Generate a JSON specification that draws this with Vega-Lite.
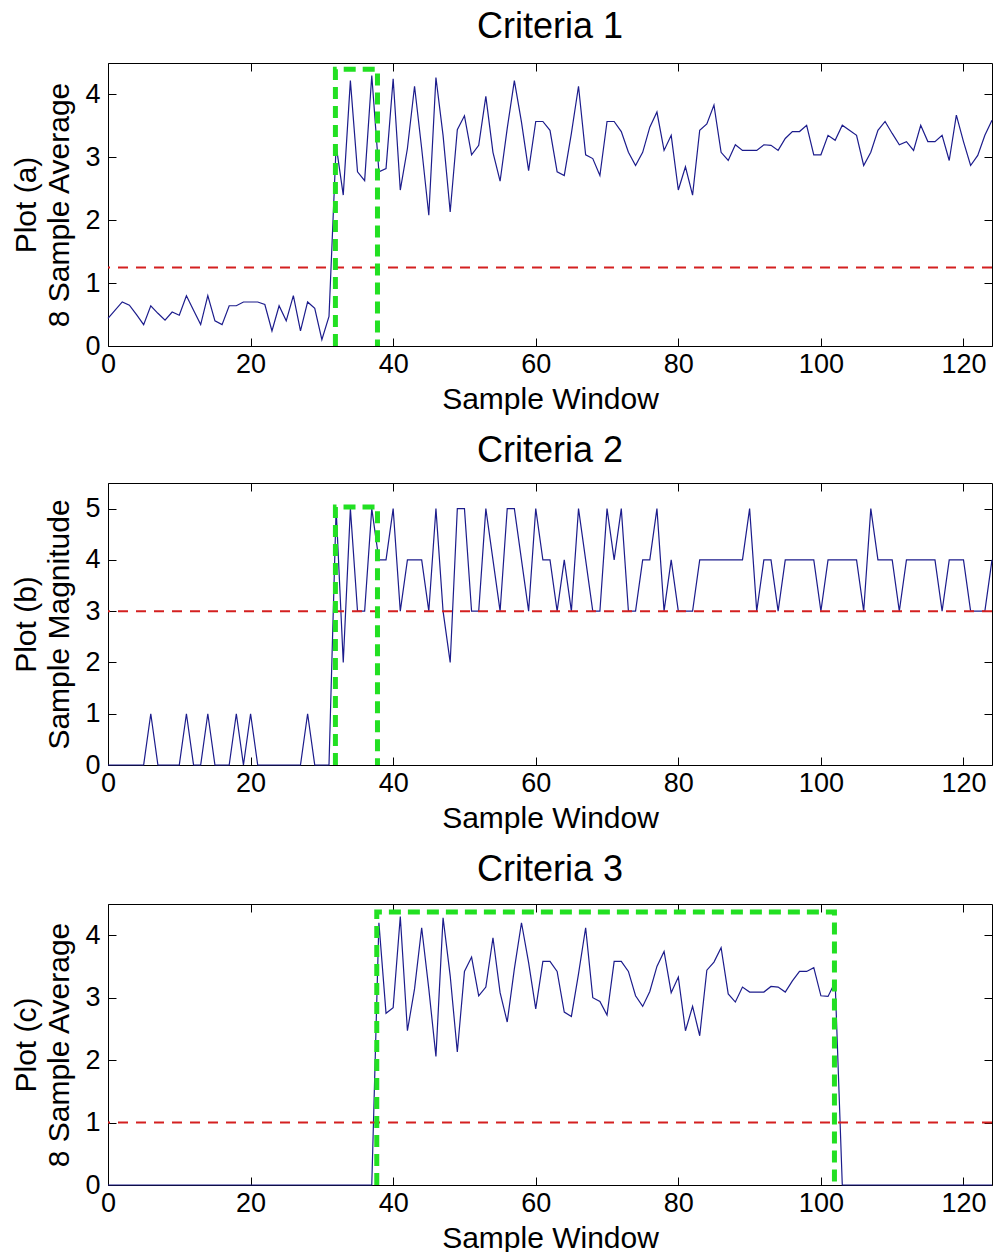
{
  "$schema": "https://vega.github.io/schema/vega-lite/v6.json",
  "background": "white",
  "padding": {"left": 11, "top": 8, "right": 0, "bottom": 0},
  "spacing": 17,
  "datasets": {
    "p1": [
      {"x":0,"v":0.44},{"x":1,"v":0.57},{"x":2,"v":0.70},{"x":3,"v":0.65},{"x":4,"v":0.50},{"x":5,"v":0.34},{"x":6,"v":0.64},{"x":7,"v":0.52},{"x":8,"v":0.41},{"x":9,"v":0.54},
      {"x":10,"v":0.49},{"x":11,"v":0.80},{"x":12,"v":0.57},{"x":13,"v":0.34},{"x":14,"v":0.80},{"x":15,"v":0.40},{"x":16,"v":0.34},{"x":17,"v":0.64},{"x":18,"v":0.64},{"x":19,"v":0.70},
      {"x":20,"v":0.70},{"x":21,"v":0.70},{"x":22,"v":0.66},{"x":23,"v":0.24},{"x":24,"v":0.64},{"x":25,"v":0.40},{"x":26,"v":0.80},{"x":27,"v":0.24},{"x":28,"v":0.70},{"x":29,"v":0.60},
      {"x":30,"v":0.10},{"x":31,"v":0.47},{"x":32,"v":3.19},{"x":33,"v":2.40},{"x":34,"v":4.22},{"x":35,"v":2.77},{"x":36,"v":2.63},{"x":37,"v":4.30},{"x":38,"v":2.77},{"x":39,"v":2.82},
      {"x":40,"v":4.25},{"x":41,"v":2.48},{"x":42,"v":3.14},{"x":43,"v":4.13},{"x":44,"v":3.14},{"x":45,"v":2.08},{"x":46,"v":4.27},{"x":47,"v":3.35},{"x":48,"v":2.13},{"x":49,"v":3.44},
      {"x":50,"v":3.66},{"x":51,"v":3.04},{"x":52,"v":3.19},{"x":53,"v":3.97},{"x":54,"v":3.08},{"x":55,"v":2.62},{"x":56,"v":3.46},{"x":57,"v":4.22},{"x":58,"v":3.56},{"x":59,"v":2.79},
      {"x":60,"v":3.57},{"x":61,"v":3.57},{"x":62,"v":3.43},{"x":63,"v":2.77},{"x":64,"v":2.71},{"x":65,"v":3.38},{"x":66,"v":4.13},{"x":67,"v":3.04},{"x":68,"v":2.98},{"x":69,"v":2.71},
      {"x":70,"v":3.57},{"x":71,"v":3.57},{"x":72,"v":3.41},{"x":73,"v":3.08},{"x":74,"v":2.87},{"x":75,"v":3.08},{"x":76,"v":3.48},{"x":77,"v":3.72},{"x":78,"v":3.11},{"x":79,"v":3.35},
      {"x":80,"v":2.48},{"x":81,"v":2.85},{"x":82,"v":2.40},{"x":83,"v":3.43},{"x":84,"v":3.53},{"x":85,"v":3.83},{"x":86,"v":3.08},{"x":87,"v":2.95},{"x":88,"v":3.20},{"x":89,"v":3.11},
      {"x":90,"v":3.11},{"x":91,"v":3.11},{"x":92,"v":3.20},{"x":93,"v":3.19},{"x":94,"v":3.11},{"x":95,"v":3.30},{"x":96,"v":3.41},{"x":97,"v":3.41},{"x":98,"v":3.51},{"x":99,"v":3.04},
      {"x":100,"v":3.04},{"x":101,"v":3.35},{"x":102,"v":3.27},{"x":103,"v":3.51},{"x":104,"v":3.43},{"x":105,"v":3.35},{"x":106,"v":2.87},{"x":107,"v":3.08},{"x":108,"v":3.43},{"x":109,"v":3.57},
      {"x":110,"v":3.38},{"x":111,"v":3.20},{"x":112,"v":3.25},{"x":113,"v":3.11},{"x":114,"v":3.51},{"x":115,"v":3.25},{"x":116,"v":3.25},{"x":117,"v":3.35},{"x":118,"v":2.95},{"x":119,"v":3.67},
      {"x":120,"v":3.25},{"x":121,"v":2.87},{"x":122,"v":3.03},{"x":123,"v":3.35},{"x":124,"v":3.59}
    ],
    "p2": [
      {"x":0,"v":0},{"x":1,"v":0},{"x":2,"v":0},{"x":3,"v":0},{"x":4,"v":0},{"x":5,"v":0},{"x":6,"v":1},{"x":7,"v":0},{"x":8,"v":0},{"x":9,"v":0},
      {"x":10,"v":0},{"x":11,"v":1},{"x":12,"v":0},{"x":13,"v":0},{"x":14,"v":1},{"x":15,"v":0},{"x":16,"v":0},{"x":17,"v":0},{"x":18,"v":1},{"x":19,"v":0},
      {"x":20,"v":1},{"x":21,"v":0},{"x":22,"v":0},{"x":23,"v":0},{"x":24,"v":0},{"x":25,"v":0},{"x":26,"v":0},{"x":27,"v":0},{"x":28,"v":1},{"x":29,"v":0},
      {"x":30,"v":0},{"x":31,"v":0},{"x":32,"v":5},{"x":33,"v":2},{"x":34,"v":5},{"x":35,"v":3},{"x":36,"v":3},{"x":37,"v":5},{"x":38,"v":4},{"x":39,"v":4},
      {"x":40,"v":5},{"x":41,"v":3},{"x":42,"v":4},{"x":43,"v":4},{"x":44,"v":4},{"x":45,"v":3},{"x":46,"v":5},{"x":47,"v":3},{"x":48,"v":2},{"x":49,"v":5},
      {"x":50,"v":5},{"x":51,"v":3},{"x":52,"v":3},{"x":53,"v":5},{"x":54,"v":4},{"x":55,"v":3},{"x":56,"v":5},{"x":57,"v":5},{"x":58,"v":4},{"x":59,"v":3},
      {"x":60,"v":5},{"x":61,"v":4},{"x":62,"v":4},{"x":63,"v":3},{"x":64,"v":4},{"x":65,"v":3},{"x":66,"v":5},{"x":67,"v":4},{"x":68,"v":3},{"x":69,"v":3},
      {"x":70,"v":5},{"x":71,"v":4},{"x":72,"v":5},{"x":73,"v":3},{"x":74,"v":3},{"x":75,"v":4},{"x":76,"v":4},{"x":77,"v":5},{"x":78,"v":3},{"x":79,"v":4},
      {"x":80,"v":3},{"x":81,"v":3},{"x":82,"v":3},{"x":83,"v":4},{"x":84,"v":4},{"x":85,"v":4},{"x":86,"v":4},{"x":87,"v":4},{"x":88,"v":4},{"x":89,"v":4},
      {"x":90,"v":5},{"x":91,"v":3},{"x":92,"v":4},{"x":93,"v":4},{"x":94,"v":3},{"x":95,"v":4},{"x":96,"v":4},{"x":97,"v":4},{"x":98,"v":4},{"x":99,"v":4},
      {"x":100,"v":3},{"x":101,"v":4},{"x":102,"v":4},{"x":103,"v":4},{"x":104,"v":4},{"x":105,"v":4},{"x":106,"v":3},{"x":107,"v":5},{"x":108,"v":4},{"x":109,"v":4},
      {"x":110,"v":4},{"x":111,"v":3},{"x":112,"v":4},{"x":113,"v":4},{"x":114,"v":4},{"x":115,"v":4},{"x":116,"v":4},{"x":117,"v":3},{"x":118,"v":4},{"x":119,"v":4},
      {"x":120,"v":4},{"x":121,"v":3},{"x":122,"v":3},{"x":123,"v":3},{"x":124,"v":4}
    ],
    "p3": [
      {"x":0,"v":0},{"x":10,"v":0},{"x":20,"v":0},{"x":30,"v":0},{"x":37,"v":0},
      {"x":38,"v":4.20},{"x":39,"v":2.75},
      {"x":40,"v":2.84},{"x":41,"v":4.30},{"x":42,"v":2.47},{"x":43,"v":3.14},{"x":44,"v":4.12},{"x":45,"v":3.14},{"x":46,"v":2.06},{"x":47,"v":4.28},{"x":48,"v":3.35},{"x":49,"v":2.13},
      {"x":50,"v":3.42},{"x":51,"v":3.65},{"x":52,"v":3.03},{"x":53,"v":3.17},{"x":54,"v":3.96},{"x":55,"v":3.08},{"x":56,"v":2.61},{"x":57,"v":3.46},{"x":58,"v":4.20},{"x":59,"v":3.56},
      {"x":60,"v":2.82},{"x":61,"v":3.58},{"x":62,"v":3.58},{"x":63,"v":3.42},{"x":64,"v":2.77},{"x":65,"v":2.70},{"x":66,"v":3.38},{"x":67,"v":4.12},{"x":68,"v":3.00},{"x":69,"v":2.94},
      {"x":70,"v":2.72},{"x":71,"v":3.58},{"x":72,"v":3.58},{"x":73,"v":3.42},{"x":74,"v":3.03},{"x":75,"v":2.86},{"x":76,"v":3.10},{"x":77,"v":3.50},{"x":78,"v":3.74},{"x":79,"v":3.08},
      {"x":80,"v":3.33},{"x":81,"v":2.47},{"x":82,"v":2.86},{"x":83,"v":2.39},{"x":84,"v":3.44},{"x":85,"v":3.57},{"x":86,"v":3.80},{"x":87,"v":3.06},{"x":88,"v":2.93},{"x":89,"v":3.17},
      {"x":90,"v":3.09},{"x":91,"v":3.09},{"x":92,"v":3.09},{"x":93,"v":3.18},{"x":94,"v":3.17},{"x":95,"v":3.09},{"x":96,"v":3.27},{"x":97,"v":3.42},{"x":98,"v":3.42},{"x":99,"v":3.48},
      {"x":100,"v":3.03},{"x":101,"v":3.02},{"x":102,"v":3.25},{"x":103,"v":0},{"x":110,"v":0},{"x":124,"v":0}
    ],
    "g1": [{"x":31.9,"y":0,"o":0},{"x":31.9,"y":4.4,"o":1},{"x":37.8,"y":4.4,"o":2},{"x":37.8,"y":0,"o":3}],
    "g2": [{"x":31.9,"y":0,"o":0},{"x":31.9,"y":5.03,"o":1},{"x":37.8,"y":5.03,"o":2},{"x":37.8,"y":0,"o":3}],
    "g3": [{"x":37.7,"y":0,"o":0},{"x":37.7,"y":4.37,"o":1},{"x":101.9,"y":4.37,"o":2},{"x":101.9,"y":0,"o":3}],
    "t1": [{"t":1.25}],
    "t2": [{"t":3}],
    "t3": [{"t":1}]
  },
  "vconcat": [
    {
      "width": 884, "height": 283,
      "title": {"text": "Criteria 1"},
      "resolve": {"axis": {"x": "independent", "y": "independent"}},
      "layer": [
        {
          "data": {"name": "p1"},
          "mark": {"type": "line", "color": "#1c1c8c", "strokeWidth": 1.2},
          "encoding": {
            "x": {"field": "x", "type": "quantitative", "scale": {"domain": [0, 124], "nice": false, "zero": false},
                  "axis": {"orient": "bottom", "values": [0,20,40,60,80,100,120], "title": "Sample Window"}},
            "y": {"field": "v", "type": "quantitative", "scale": {"domain": [0, 4.5], "nice": false},
                  "axis": {"orient": "left", "values": [0,1,2,3,4], "title": ["Plot (a)", "8 Sample Average"]}}
          }
        },
        {
          "data": {"name": "t1"},
          "mark": {"type": "rule", "color": "#d42020", "strokeWidth": 2, "strokeDash": [10, 8]},
          "encoding": {
            "y": {"field": "t", "type": "quantitative", "scale": {"domain": [0, 4.5], "nice": false}, "axis": null}
          }
        },
        {
          "data": {"name": "g1"},
          "mark": {"type": "line", "color": "#22e022", "strokeWidth": 5, "strokeDash": [12, 7]},
          "encoding": {
            "x": {"field": "x", "type": "quantitative", "scale": {"domain": [0, 124], "nice": false, "zero": false},
                  "axis": {"orient": "top", "values": [0,20,40,60,80,100,120], "labels": false, "title": null}},
            "y": {"field": "y", "type": "quantitative", "scale": {"domain": [0, 4.5], "nice": false},
                  "axis": {"orient": "right", "values": [0,1,2,3,4], "labels": false, "title": null}},
            "order": {"field": "o", "type": "quantitative"}
          }
        }
      ]
    },
    {
      "width": 884, "height": 282,
      "title": {"text": "Criteria 2"},
      "resolve": {"axis": {"x": "independent", "y": "independent"}},
      "layer": [
        {
          "data": {"name": "p2"},
          "mark": {"type": "line", "color": "#1c1c8c", "strokeWidth": 1.2},
          "encoding": {
            "x": {"field": "x", "type": "quantitative", "scale": {"domain": [0, 124], "nice": false, "zero": false},
                  "axis": {"orient": "bottom", "values": [0,20,40,60,80,100,120], "title": "Sample Window"}},
            "y": {"field": "v", "type": "quantitative", "scale": {"domain": [0, 5.5], "nice": false},
                  "axis": {"orient": "left", "values": [0,1,2,3,4,5], "title": ["Plot (b)", "Sample Magnitude"]}}
          }
        },
        {
          "data": {"name": "t2"},
          "mark": {"type": "rule", "color": "#d42020", "strokeWidth": 2, "strokeDash": [10, 8]},
          "encoding": {
            "y": {"field": "t", "type": "quantitative", "scale": {"domain": [0, 5.5], "nice": false}, "axis": null}
          }
        },
        {
          "data": {"name": "g2"},
          "mark": {"type": "line", "color": "#22e022", "strokeWidth": 5, "strokeDash": [12, 7]},
          "encoding": {
            "x": {"field": "x", "type": "quantitative", "scale": {"domain": [0, 124], "nice": false, "zero": false},
                  "axis": {"orient": "top", "values": [0,20,40,60,80,100,120], "labels": false, "title": null}},
            "y": {"field": "y", "type": "quantitative", "scale": {"domain": [0, 5.5], "nice": false},
                  "axis": {"orient": "right", "values": [0,1,2,3,4,5], "labels": false, "title": null}},
            "order": {"field": "o", "type": "quantitative"}
          }
        }
      ]
    },
    {
      "width": 884, "height": 281,
      "title": {"text": "Criteria 3"},
      "resolve": {"axis": {"x": "independent", "y": "independent"}},
      "layer": [
        {
          "data": {"name": "p3"},
          "mark": {"type": "line", "color": "#1c1c8c", "strokeWidth": 1.2},
          "encoding": {
            "x": {"field": "x", "type": "quantitative", "scale": {"domain": [0, 124], "nice": false, "zero": false},
                  "axis": {"orient": "bottom", "values": [0,20,40,60,80,100,120], "title": "Sample Window"}},
            "y": {"field": "v", "type": "quantitative", "scale": {"domain": [0, 4.5], "nice": false},
                  "axis": {"orient": "left", "values": [0,1,2,3,4], "title": ["Plot (c)", "8 Sample Average"]}}
          }
        },
        {
          "data": {"name": "t3"},
          "mark": {"type": "rule", "color": "#d42020", "strokeWidth": 2, "strokeDash": [10, 8]},
          "encoding": {
            "y": {"field": "t", "type": "quantitative", "scale": {"domain": [0, 4.5], "nice": false}, "axis": null}
          }
        },
        {
          "data": {"name": "g3"},
          "mark": {"type": "line", "color": "#22e022", "strokeWidth": 5, "strokeDash": [12, 7]},
          "encoding": {
            "x": {"field": "x", "type": "quantitative", "scale": {"domain": [0, 124], "nice": false, "zero": false},
                  "axis": {"orient": "top", "values": [0,20,40,60,80,100,120], "labels": false, "title": null}},
            "y": {"field": "y", "type": "quantitative", "scale": {"domain": [0, 4.5], "nice": false},
                  "axis": {"orient": "right", "values": [0,1,2,3,4], "labels": false, "title": null}},
            "order": {"field": "o", "type": "quantitative"}
          }
        }
      ]
    }
  ],
  "config": {
    "view": {"stroke": "black", "strokeWidth": 1},
    "font": "Liberation Sans",
    "title": {"font": "Liberation Sans", "fontSize": 36, "fontWeight": "normal", "color": "black", "baseline": "alphabetic", "offset": 13},
    "axis": {
      "domain": false, "grid": false,
      "tickColor": "black", "tickSize": -8, "tickWidth": 1,
      "labelFont": "Liberation Sans", "labelFontSize": 27, "labelColor": "black",
      "labelPadding": 16, "labelFlush": false, "labelOverlap": false,
      "titleFont": "Liberation Sans", "titleFontSize": 30, "titleFontWeight": "normal", "titleColor": "black",
      "titlePadding": 4, "titleLineHeight": 33
    },
    "axisX": {"labelPadding": 13, "titlePadding": 7},
    "axisY": {"titlePadding": 10}
  }
}
